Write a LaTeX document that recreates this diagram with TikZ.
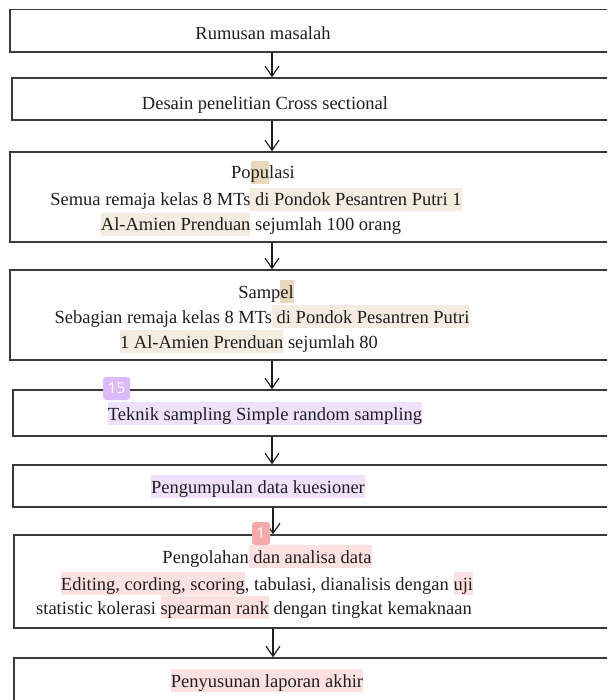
\documentclass[tikz,border=0pt]{standalone}
\usepackage{fontspec}
\setmainfont{Liberation Serif}
\newfontfamily\badgefont{Open Sans}
\usetikzlibrary{arrows.meta}
\definecolor{ink}{HTML}{1E1E1E}
\definecolor{frame}{HTML}{3A3A3A}
\definecolor{hlbeige}{HTML}{F4ECDF}
\definecolor{hltan}{HTML}{EAD8BC}
\definecolor{hllav}{HTML}{EFE0FC}
\definecolor{hlpink}{HTML}{FDE1E1}
\definecolor{badgepurple}{HTML}{DCB9F7}
\definecolor{badgepink}{HTML}{F5A9A9}
\newcommand\hlt[2]{{\setlength\fboxsep{0pt}\colorbox{#1}{\rule[-5pt]{0pt}{23pt}#2}}}
\tikzset{
  flowbox/.style={draw=frame, line width=1.5pt, rectangle, inner sep=0pt},
  txt/.style={anchor=base, inner sep=0pt, text=ink, font=\fontsize{18.5}{25}\selectfont},
  arr/.style={draw=ink, line width=1.2pt, -{Straight Barb[length=10pt,width=14pt,line width=1.2pt]}},
  badge/.style={rectangle, rounded corners=3pt, inner sep=0pt, text=white, font=\badgefont\fontsize{15}{15}\selectfont}
}
\begin{document}
\begin{tikzpicture}[x=1pt,y=-1pt]
\useasboundingbox (0,0) rectangle (607,700);
\clip (0,0) rectangle (607,700);
% boxes (right side runs past the edge)
\node[flowbox, minimum width=630pt, minimum height=42.5pt] (b1) at (325,30.75) {};
\node[flowbox, minimum width=628pt, minimum height=42pt] (b2) at (326,99) {};
\node[flowbox, minimum width=630pt, minimum height=90pt] (b3) at (325,197) {};
\node[flowbox, minimum width=630pt, minimum height=90pt] (b4) at (325,315) {};
\node[flowbox, minimum width=627pt, minimum height=46pt] (b5) at (326.5,413) {};
\node[flowbox, minimum width=627pt, minimum height=42pt] (b6) at (326.5,486) {};
\node[flowbox, minimum width=626pt, minimum height=93pt] (b7) at (327,581.5) {};
\node[flowbox, minimum width=626pt, minimum height=84pt] (b8) at (327,700) {};
% arrow column
\coordinate (ax) at (272,0);
\coordinate (bx) at (273,0);
\draw[arr] (b1.south -| ax) -- (b2.north -| ax);
\draw[arr] (b2.south -| ax) -- (b3.north -| ax);
\draw[arr] (b3.south -| ax) -- (b4.north -| ax);
\draw[arr] (b4.south -| ax) -- (b5.north -| ax);
\draw[arr] (b5.south -| ax) -- (b6.north -| ax);
\draw[arr] (b6.south -| bx) -- (b7.north -| bx);
\draw[arr] (b7.south -| bx) -- (b8.north -| bx);
% texts
\node[txt] (t1) at (263,40) {Rumusan masalah};
\node[txt] (t2) at (265,110) {Desain penelitian Cross sectional};
\node[txt] (t3a) at (263,179) {Po\hlt{hltan}{pu}lasi};
\node[txt] (t3b) at (256,206) {Semua remaja kelas 8 MTs\hlt{hlbeige}{ di Pondok Pesantren Putri 1}};
\node[txt] (t3c) at (251,231) {\hlt{hlbeige}{Al-Amien Prenduan} sejumlah 100 orang};
\node[txt] (t4a) at (266,298) {Samp\hlt{hltan}{el}};
\node[txt] (t4b) at (262,323) {Sebagian remaja kelas 8 MTs\hlt{hlbeige}{ di Pondok Pesantren Putri}};
\node[txt] (t4c) at (249,348) {\hlt{hlbeige}{1 Al-Amien Prenduan} sejumlah 80};
\node[txt] (t5) at (265,420) {\hlt{hllav}{Teknik sampling Simple random sampling}};
\node[txt] (t6) at (258,493) {\hlt{hllav}{Pengumpulan data kuesioner}};
\node[txt] (t7a) at (267,563) {Pengolahan\hlt{hlpink}{ dan analisa data}};
\node[txt] (t7b) at (267,590) {\hlt{hlpink}{Editing, cording, scoring}, tabulasi, dianalisis dengan \hlt{hlpink}{uji}};
\node[txt] (t7c) at (254,614) {statistic kolerasi \hlt{hlpink}{spearman rank} dengan tingkat kemaknaan};
\node[txt] (t8) at (267,687) {\hlt{hlpink}{Penyusunan laporan akhir}};
% badges
\node[badge, fill=badgepurple, minimum width=27pt, minimum height=23pt] (g15) at (116.5,388.5) {15};
\node[badge, fill=badgepink, minimum width=18pt, minimum height=23pt] (g1) at (261,533.5) {1};
\end{tikzpicture}
\end{document}
